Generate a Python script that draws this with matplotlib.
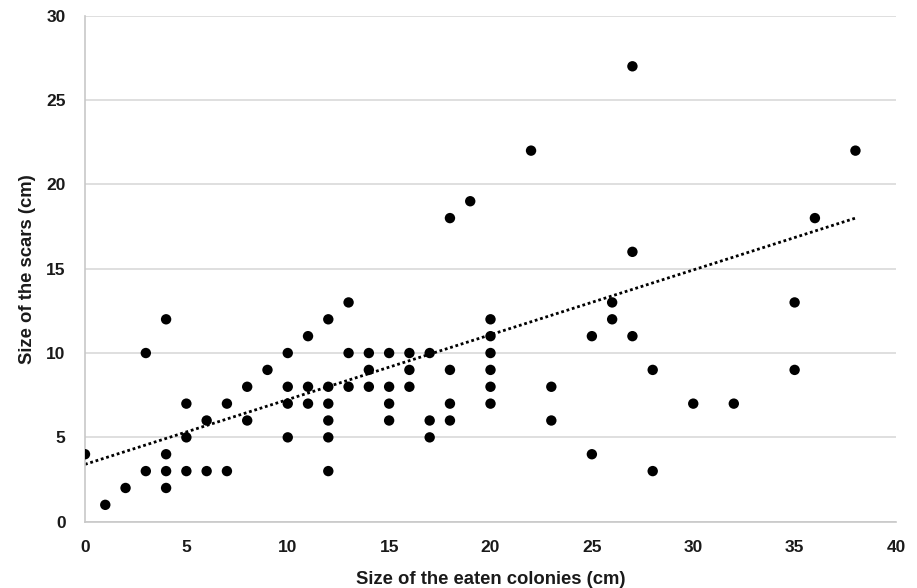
import numpy as np
import matplotlib
matplotlib.use("Agg")
import matplotlib.pyplot as plt

plt.rcParams['font.family'] = ['Liberation Sans', 'DejaVu Sans']

# Data: size of eaten colonies (cm) -> size of scars (cm)
colony_x = [0, 1, 2, 3, 3, 4, 4, 4, 4, 5, 5, 5, 6, 6, 7, 7, 8, 8, 9,
            10, 10, 10, 10, 11, 11, 11, 12, 12, 12, 12, 12, 12,
            13, 13, 13, 14, 14, 14, 15, 15, 15, 15, 16, 16, 16,
            17, 17, 17, 18, 18, 18, 18, 19,
            20, 20, 20, 20, 20, 20, 22, 23, 23, 25, 25, 26, 26,
            27, 27, 27, 28, 28, 30, 32, 35, 35, 36, 38]
scar_y = [4, 1, 2, 10, 3, 12, 4, 3, 2, 7, 5, 3, 6, 3, 7, 3, 8, 6, 9,
          10, 8, 7, 5, 11, 8, 7, 12, 8, 7, 6, 5, 3,
          13, 10, 8, 10, 9, 8, 10, 8, 7, 6, 10, 9, 8,
          10, 6, 5, 18, 9, 7, 6, 19,
          12, 11, 10, 9, 8, 7, 22, 8, 6, 11, 4, 13, 12,
          27, 16, 11, 9, 3, 7, 7, 13, 9, 18, 22]

# Linear trendline (Excel-style trendline)
trend_x = [0, 38]
trend_y = [3.4, 18.0]

x_ticks = [0, 5, 10, 15, 20, 25, 30, 35, 40]
y_ticks = [0, 5, 10, 15, 20, 25, 30]

W, H = 917, 588
fig = plt.figure(figsize=(W / 100, H / 100), dpi=100)
ax = fig.add_axes([85 / W, (H - 521.7) / H, 811 / W, 506 / H])

ax.plot(trend_x, trend_y, color='black', lw=2.0,
        linestyle=(0, (1, 1)), zorder=2)

ax.scatter(colony_x, scar_y, s=56, color='black', edgecolors='none', zorder=3)

ax.set_xlim(0, 40)
ax.set_ylim(0, 30)
ax.set_xticks(x_ticks)
ax.set_yticks(y_ticks)
ax.yaxis.grid(True, color='#d9d9d9', lw=1.2)
ax.set_axisbelow(True)
for s in ['top', 'right']:
    ax.spines[s].set_visible(False)
for s in ['left', 'bottom']:
    ax.spines[s].set_color('#c8c8c8')
    ax.spines[s].set_linewidth(1.2)
ax.tick_params(length=0, labelsize=12.5, colors='#1a1a1a')
ax.tick_params(axis='x', pad=13)
ax.tick_params(axis='y', pad=14)
for lab in ax.get_xticklabels() + ax.get_yticklabels():
    lab.set_fontweight('bold')

ax.set_xlabel('Size of the eaten colonies (cm)', fontsize=13.3,
              fontweight='bold', color='#1a1a1a', labelpad=11.5)
ax.set_ylabel('Size of the scars (cm)', fontsize=13.3,
              fontweight='bold', color='#1a1a1a', labelpad=7)

fig.savefig('out.png', dpi=100, facecolor='white')
